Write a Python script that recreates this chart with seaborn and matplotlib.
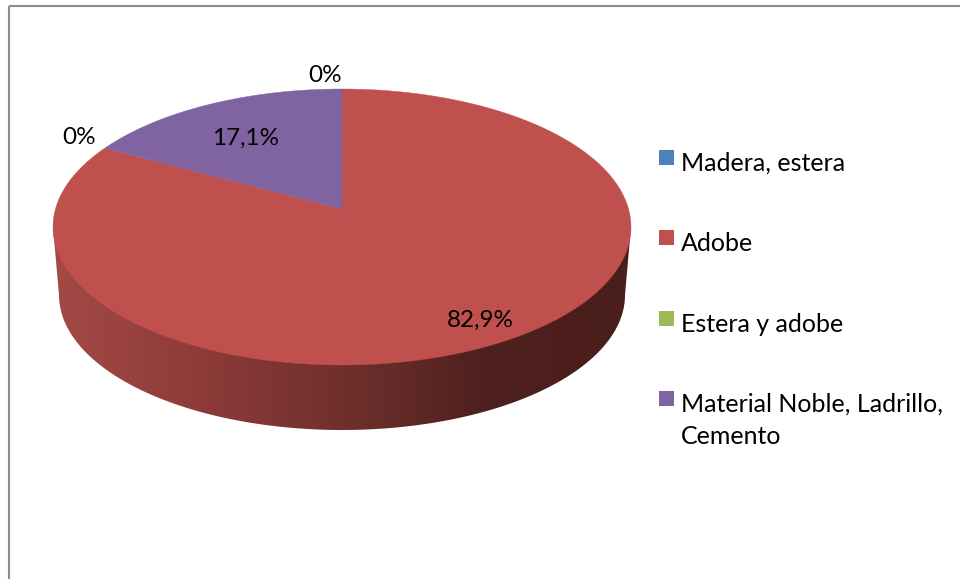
import numpy as np
import matplotlib
matplotlib.use('Agg')
import matplotlib.pyplot as plt
from matplotlib.colors import LinearSegmentedColormap
from matplotlib.patches import Polygon, Rectangle
import seaborn as sns

categories = ['Madera, estera', 'Adobe', 'Estera y adobe',
              'Material Noble, Ladrillo,\nCemento']
shares = [0, 82.9, 0, 17.1]
value_labels = ['0%', '82,9%', '0%', '17,1%']
colors = ['#4f81bd', '#c0504d', '#9bbb59', '#8064a2']

# pie geometry, in pixels of the 960x579 canvas
CX, CY, RX, RY = 342, 227, 289, 138
APEX_Y = 209
BOTTOM_CY, BOTTOM_RX, BOTTOM_RY = 295, 283, 135
LABEL_XY = [(325, 75), (480, 320), (79, 138), (246, 138)]
LEGEND_X, LEGEND_TOPS, SWATCH = 659, [150, 230, 311, 391], 15
SIDE_STOPS = ['#a34a47', '#8e3b39', '#70302d', '#4e201e', '#4a1e1c']

sns.set_theme(style='white')
plt.rcParams['font.family'] = ['Lato', 'DejaVu Sans']
LABEL_FONT, LEGEND_FONT = 17.5, 18


def project(theta):
    """Angles on the flat pie to canvas pixels, with the tilt's perspective."""
    c = (CY - APEX_Y) / RY
    x, y = np.cos(np.radians(theta)), np.sin(np.radians(theta))
    w = 1 + c * y
    return np.column_stack([CX + RX * np.sqrt(1 - c ** 2) * x / w,
                            CY - RY * (y + c) / w])


fig = plt.figure(figsize=(9.6, 5.79), dpi=100)
ax = fig.add_axes([0, 0, 1, 1])

wedges, _ = ax.pie(shares, startangle=90, counterclock=False, colors=colors)
arcs = [(w.theta1, w.theta2) for w in wedges]
for w in wedges:
    w.remove()

# side of the disc, shaded left to right
t = np.radians(np.linspace(180, 360, 200))
upper = np.column_stack([CX + RX * np.cos(t), CY + 0 * t])
lower = np.column_stack([CX + BOTTOM_RX * np.cos(t), BOTTOM_CY - BOTTOM_RY * np.sin(t)])
side = Polygon(np.vstack([upper[:1], lower, upper[-1:]]), closed=True,
               fc='none', ec='none', transform=ax.transData)
ax.add_patch(side)
cmap = LinearSegmentedColormap.from_list('side', SIDE_STOPS)
img = ax.imshow(np.linspace(0, 1, 256)[None, :], cmap=cmap, aspect='auto',
                extent=(CX - RX, CX + RX, 440, 220), zorder=1)
img.set_clip_path(side)

# top face
for (theta1, theta2), share, color in zip(arcs, shares, colors):
    if share == 0:
        continue
    rim = project(np.linspace(theta1, theta2, 300))
    apex = [[CX, APEX_Y]]
    ax.add_patch(Polygon(np.vstack([apex, rim]), closed=True, fc=color, ec=color,
                         lw=0.3, zorder=2))

for text, (x, y) in zip(value_labels, LABEL_XY):
    ax.text(x, y, text, ha='center', va='center', fontsize=LABEL_FONT, color='black', zorder=3)

# legend rows; a legend box would centre the swatch on the two-line entry
for name, color, top in zip(categories, colors, LEGEND_TOPS):
    ax.add_patch(Rectangle((LEGEND_X, top), SWATCH, SWATCH, fc=color, ec='none', zorder=3))
    ax.text(LEGEND_X + SWATCH + 7, top + 2, name, ha='left', va='top', fontsize=LEGEND_FONT,
            color='black', linespacing=1.5, zorder=3)

# chart frame, cut off by the canvas on the right and at the bottom
ax.add_patch(Rectangle((8.5, 6), 1200, 900, fc='none', ec='#8c8c8c', lw=1.5, zorder=4))

ax.set_xlim(0, 960)
ax.set_ylim(579, 0)
ax.set_aspect('auto')
ax.axis('off')

fig.savefig('out.png', dpi=100)
